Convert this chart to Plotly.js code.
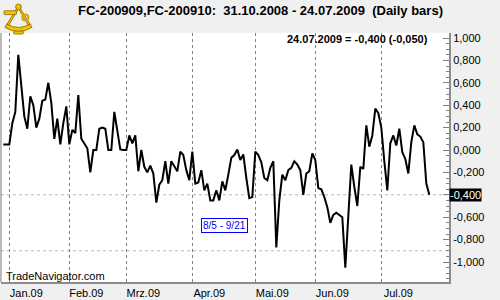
<!DOCTYPE html>
<html><head><meta charset="utf-8">
<script src="https://cdn.plot.ly/plotly-3.0.1.min.js"></script>
<style>html,body{margin:0;padding:0;background:#f0f0f0;overflow:hidden}</style>
</head><body><div id="chart" style="width:500px;height:300px"></div>
<script>
// ---- data ----
const firstDay = '2008-12-30';
const lastDay = '2009-07-24';
const holidays = ['2009-01-01','2009-01-19','2009-02-16','2009-04-10','2009-05-25','2009-07-03'];
const spreadValues = [
  0.05,0.05,0.05,0.24,0.34,0.85,0.54,0.30,0.19,0.48,
  0.40,0.20,0.28,0.44,0.45,0.60,0.42,0.10,0.28,0.05,
  0.24,0.39,0.05,0.18,0.15,0.49,0.10,0.06,0.015,-0.20,
  0.00,0.00,0.19,0.20,0.19,0.00,0.00,0.34,0.15,0.005,
  0.00,0.00,0.13,0.06,0.13,-0.19,0.00,-0.15,-0.20,-0.14,
  -0.21,-0.47,-0.31,-0.27,-0.10,-0.30,-0.10,-0.14,-0.19,-0.015,
  -0.045,-0.18,-0.27,-0.015,-0.30,-0.29,-0.18,-0.36,-0.30,-0.45,
  -0.45,-0.36,-0.45,-0.28,-0.36,-0.22,-0.07,-0.045,0.005,-0.09,
  -0.04,-0.25,-0.43,-0.42,-0.015,-0.045,-0.11,-0.25,-0.27,-0.16,
  -0.10,-0.87,-0.45,-0.22,-0.27,-0.18,-0.16,-0.10,-0.13,-0.18,
  -0.40,-0.21,-0.19,-0.03,-0.09,-0.34,-0.35,-0.42,-0.51,-0.65,
  -0.58,-0.56,-0.58,-0.60,-1.05,-0.54,-0.13,-0.33,-0.50,-0.15,
  -0.17,0.22,0.03,0.13,0.37,0.33,0.20,-0.10,-0.36,0.06,
  0.13,0.04,0.19,-0.02,-0.08,-0.21,0.07,0.22,0.14,0.12,
  0.07,-0.30,-0.40
];
const monthTickDates = ['2009-01-02','2009-02-02','2009-03-02','2009-04-01','2009-05-01','2009-06-01','2009-07-01'];
const monthTickLabels = ['Jan.09','Feb.09','Mrz.09','Apr.09','Mai.09','Jun.09','Jul.09'];
const yTickValues = [1,0.8,0.6,0.4,0.2,0,-0.2,-0.4,-0.6,-0.8,-1];
const yTickLabels = ['1,000','0,800','0,600','0,400','0,200','0,000','-0,200','-0,400','-0,600','-0,800','-1,000'];
const levelLines = [-0.4, -0.9];
const lastValue = -0.4;
const chartTitle = 'FC-200909,FC-200910:\u00a0\u00a031.10.2008 - 24.07.2009\u00a0\u00a0(Daily bars)';
const lastInfo = '24.07.2009 = -0,400 (-0,050)';
const lastValueText = '-0,400';
const rangeLabel = '8/5 - 9/21';
const brand = 'TradeNavigator.com';

// trading calendar (weekdays minus exchange holidays)
function tradingDays(a, b, hol) {
  const out = [];
  const d = new Date(a + 'T00:00:00Z');
  const end = new Date(b + 'T00:00:00Z');
  while (d <= end) {
    const s = d.toISOString().slice(0, 10);
    const wd = d.getUTCDay();
    if (wd !== 0 && wd !== 6 && hol.indexOf(s) < 0) out.push(s);
    d.setUTCDate(d.getUTCDate() + 1);
  }
  return out;
}
const dates = tradingDays(firstDay, lastDay, holidays);
// the last-value marker box replaces the regular label at that level
const shownYLabels = yTickLabels.map((t, i) => yTickValues[i] === lastValue ? '' : t);

const logoSvg = '<svg xmlns="http://www.w3.org/2000/svg" viewBox="0 0 34 34">' +
  '<g stroke="#8a6200" stroke-width="0.8" fill="#f2c200">' +
  '<path d="M3,26 Q17,35 31,26 L29,22.5 Q17,30 5,22.5 Z"/>' +
  '<path d="M15.5,6 L17.5,6 L7,24 L5,23 Z"/>' +
  '<path d="M16.5,6 L18.5,6 L29,23 L27,24 Z"/>' +
  '<rect x="2" y="9" width="13" height="4" rx="1"/>' +
  '<circle cx="17" cy="5" r="3"/>' +
  '<circle cx="24" cy="16" r="3.2" fill="none" stroke="#d8a800" stroke-width="2"/>' +
  '<rect x="12" y="30" width="10" height="3" rx="1"/>' +
  '</g></svg>';

const trace = {
  x: dates, y: spreadValues, type: 'scatter', mode: 'lines',
  line: {color: '#000000', width: 2}, hoverinfo: 'skip'
};

const L = 1, R = 51, T = 33, B = 18;
const pw = 500 - L - R, ph = 300 - T - B;
const px = v => (v - L) / pw;
const py = v => (300 - B - v) / ph;

const shapes = levelLines.map(v => ({
  type: 'line', xref: 'paper', yref: 'y', x0: 0, x1: 1, y0: v, y1: v,
  line: {color: '#b4b4b4', width: 1, dash: '3px,3px'}, layer: 'below'
}));
shapes.push({type: 'line', xref: 'paper', yref: 'paper', x0: 0, x1: 0, y0: 0, y1: 1,
  line: {color: '#808080', width: 1}});

const layout = {
  width: 500, height: 300,
  margin: {l: L, r: R, t: T, b: B, pad: 0},
  paper_bgcolor: '#f0f0f0', plot_bgcolor: '#ffffff',
  showlegend: false,
  font: {family: 'Liberation Sans, Arial, sans-serif', size: 11, color: '#000000'},
  title: {text: chartTitle, xref: 'container', yref: 'container',
    x: 260.5 / 500, xanchor: 'center', y: 1 - 10.5 / 300, yanchor: 'middle',
    font: {family: 'Liberation Sans, Arial, sans-serif', size: 13, color: '#000000', weight: 'bold'}},
  xaxis: {
    type: 'date',
    range: ['2008-12-29 05:30', '2009-08-03 13:30'],
    rangebreaks: [{bounds: ['sat', 'mon']}, {values: holidays}],
    tickmode: 'array', tickvals: monthTickDates, ticktext: monthTickLabels,
    ticks: '', ticklabelshift: 17,
    showgrid: true, gridcolor: '#808080', gridwidth: 1, griddash: '3px,3px',
    showline: true, linecolor: '#8c8c8c', linewidth: 2,
    zeroline: false, fixedrange: true,
    tickfont: {size: 11, color: '#000000'}
  },
  yaxis: {
    side: 'right', range: [-1.1786, 1.0446],
    tickmode: 'array', tickvals: yTickValues, ticktext: shownYLabels,
    ticks: 'inside', ticklen: 6, tickcolor: '#808080', tickwidth: 1,
    minor: {ticks: 'inside', dtick: 0.05, ticklen: 3, tickcolor: '#808080', showgrid: false},
    showgrid: false, zeroline: false,
    showline: true, linecolor: '#8c8c8c', linewidth: 2,
    fixedrange: true,
    tickfont: {size: 11, color: '#000000'}
  },
  shapes: shapes,
  annotations: [
    {text: '<b>' + lastInfo + '</b>', xref: 'paper', yref: 'paper', x: px(430), y: py(38.5),
     xanchor: 'right', yanchor: 'middle', showarrow: false,
     font: {size: 11, color: '#000000'}},
    {text: lastValueText, xref: 'paper', yref: 'y', x: 1, y: lastValue, xanchor: 'left', yanchor: 'middle',
     showarrow: false, bgcolor: '#000000', borderpad: 0, font: {size: 11, color: '#ffffff'}},
    {text: rangeLabel, xref: 'paper', yref: 'paper', x: px(224), y: py(225),
     xanchor: 'center', yanchor: 'middle', showarrow: false,
     bgcolor: '#ffffff', bordercolor: '#0000ff', borderwidth: 1, borderpad: 1,
     font: {size: 10, color: '#0000ff'}},
    {text: brand, xref: 'paper', yref: 'paper', x: px(4), y: py(276),
     xanchor: 'left', yanchor: 'middle', showarrow: false,
     font: {size: 11, color: '#000000'}}
  ],
  images: [{
    source: 'data:image/svg+xml;charset=utf-8,' + encodeURIComponent(logoSvg),
    xref: 'paper', yref: 'paper', x: px(2), y: py(2), sizex: 33 / pw, sizey: 33 / ph,
    xanchor: 'left', yanchor: 'top', sizing: 'stretch', layer: 'above'
  }]
};

Plotly.newPlot('chart', [trace], layout, {displayModeBar: false, staticPlot: true});
</script>
</body></html>
